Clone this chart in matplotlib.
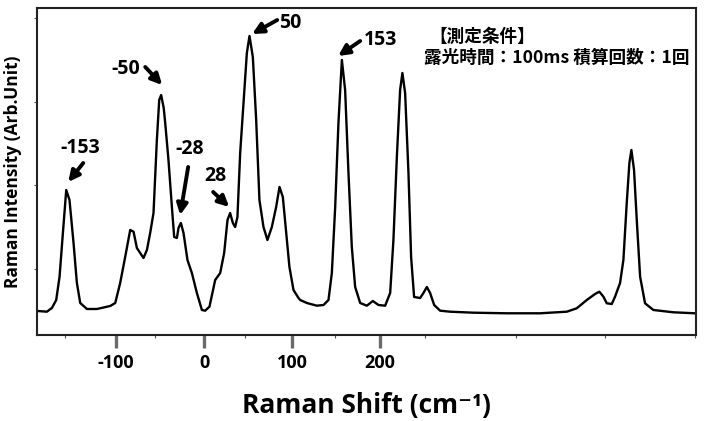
import matplotlib
matplotlib.use("Agg")
import matplotlib.pyplot as plt
from matplotlib.ticker import FixedLocator

# Raman spectrum (shift in cm-1, intensity in arb. units)
shift = [-189.4, -178.8, -173.1, -168.2, -164.4, -160.6, -156.8, -153.1, -148.5, -144.7,
         -140.9, -133.3, -121.9, -106.8, -101.1, -95.5, -89.8, -84.1, -80.3, -76.5,
         -69.0, -65.1, -61.4, -57.6, -53.8, -51.1, -48.9, -46.0, -44.3, -40.6,
         -36.7, -34.1, -31.0, -29.2, -26.5, -23.5, -19.0, -14.0, -8.3, -2.6,
         1.1, 6.0, 12.5, 18.2, 22.7, 26.5, 29.5, 32.6, 35.2, 37.8,
         40.9, 44.7, 48.5, 51.5, 55.3, 59.1, 62.8, 67.4, 71.9, 76.9,
         81.8, 85.6, 89.4, 94.0, 96.9, 101.5, 107.2, 109.1, 116.7, 128.1,
         135.6, 141.3, 145.1, 148.9, 152.6, 156.5, 160.2, 164.0, 167.8, 171.6,
         177.3, 184.9, 191.7, 198.1, 205.7, 211.4, 215.1, 219.0, 222.7, 225.3,
         228.4, 232.2, 235.2, 238.6, 245.5, 249.2, 253.1, 256.8, 261.4, 268.2,
         279.5, 306.0, 344.0, 381.8, 412.2, 423.5, 434.9, 444.3, 449.2, 453.8,
         457.6, 463.3, 467.0, 472.7, 476.5, 480.3, 483.3, 485.6, 488.6, 491.7,
         495.5, 501.1, 510.6, 533.3, 558.0]
intensity = [24, 23.3, 27, 35, 58.3, 102, 145, 135, 92, 52,
             32, 26, 26, 29, 32, 52, 78, 105, 103.3, 87,
             77, 85, 102, 122, 195, 235, 240, 227, 212, 175,
             128, 98, 97, 107, 112, 102, 75, 62, 42, 25,
             24.3, 28.3, 55, 62, 82, 115, 122, 112, 108, 118,
             182, 232, 282, 299, 278, 215, 135, 108, 95, 108,
             128, 148, 138, 95, 68, 45, 37, 35, 32, 29.3,
             30, 35, 62, 128, 212, 275, 245, 162, 88, 48,
             32, 29.3, 34, 30, 29.3, 42, 95, 178, 245, 262,
             242, 162, 78, 38, 37, 42, 48, 42, 30, 24.3,
             23.3, 22.3, 21.7, 21.7, 23.3, 26.7, 35, 41, 43.3, 38.3,
             31.7, 31, 38.3, 52, 75, 132, 172, 185, 165, 115,
             58.3, 31.7, 25, 22.7, 21.7]

xticks_major = [-100, 0, 100, 200]
xticks_minor = [-158, -56, 46, 149, 251, 354, 456, 558]
yticks = [66, 149.5, 233, 317]

plt.rcParams['font.family'] = ['Open Sans', 'DejaVu Sans']
plt.rcParams['axes.unicode_minus'] = False

fig = plt.figure(figsize=(7.04, 4.21), dpi=100)
ax = fig.add_axes([0.0526, 0.2043, 0.936, 0.7767])

ax.plot(shift, intensity, color='black', linewidth=1.7)

ax.set_xlim(-190, 559)
ax.set_ylim(0, 327)

ax.xaxis.set_major_locator(FixedLocator(xticks_major))
ax.xaxis.set_minor_locator(FixedLocator(xticks_minor))
ax.yaxis.set_major_locator(FixedLocator(yticks))
ax.tick_params(axis='x', which='major', direction='out', length=9, width=2.4,
               color='#6b6b6b', labelsize=13, pad=5)
ax.tick_params(axis='x', which='minor', direction='out', length=2.5, width=0.8,
               color='#555555')
ax.tick_params(axis='y', direction='out', length=2.5, width=0.8, color='#555555',
               labelleft=False)
for lab in ax.get_xticklabels():
    lab.set_fontweight('bold')

for s in ax.spines.values():
    s.set_linewidth(1.5)
    s.set_color('#222222')

ax.set_xlabel('Raman Shift (cm⁻¹)', fontsize=19, fontweight='bold', labelpad=14)
ax.set_ylabel('Raman Intensity (Arb.Unit)', fontsize=12.5, fontweight='bold',
              labelpad=8)

# peak labels: (text, text pos, arrow tail, arrow tip)
peak_notes = [
    ('-153', (-140.9, 187), (-137.5, 172), (-154.5, 153)),
    ('-50', (-88.6, 266), (-67, 268), (-47.7, 250)),
    ('-28', (-17, 186), (-18.2, 168), (-27.3, 120)),
    ('28', (12.5, 159), (10.2, 143), (28.4, 128)),
    ('50', (97.7, 312), (83, 315), (54.5, 301)),
    ('153', (200, 295), (177.3, 294), (152.3, 279)),
]
for label, tpos, tail, tip in peak_notes:
    ax.text(tpos[0], tpos[1], label, fontsize=14, fontweight='bold',
            ha='center', va='center')
    ax.annotate('', xy=tip, xytext=tail,
                arrowprops=dict(arrowstyle='-|>', color='black', lw=2.8,
                                mutation_scale=16, shrinkA=0, shrinkB=0))

jp = ['Noto Sans CJK JP', 'DejaVu Sans']
ax.text(0.596, 0.911, '【測定条件】', transform=ax.transAxes, fontsize=12.7,
        family=jp, fontweight='bold', ha='left', va='center')
ax.text(0.587, 0.847, '露光時間：100ms 積算回数：1回', transform=ax.transAxes,
        fontsize=12.7, family=jp, fontweight='bold', ha='left', va='center')

fig.savefig('out.png', dpi=100)
